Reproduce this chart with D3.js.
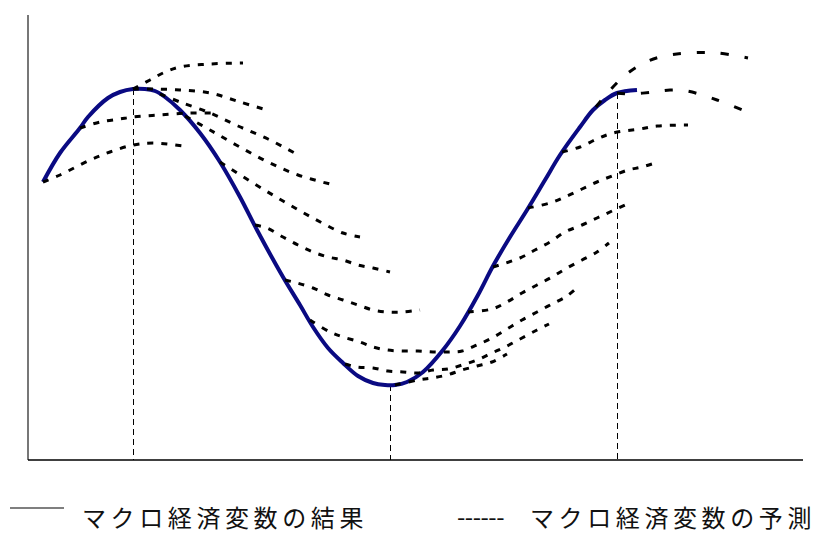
<!DOCTYPE html>
<html><head><meta charset="utf-8">
<script src="https://cdn.jsdelivr.net/npm/d3@7"></script>
<style>html,body{margin:0;padding:0;background:#fff;}svg{display:block;}</style>
</head><body>
<svg id="chart" width="820" height="535"></svg>
<script>
// Actual path of the macro variable (time, value)
const actualT = [3,6.4,10.4,12,16,18.4,21,23.4,25.4,27.4,30.4,34.4,38.4,42.4,45.8,51,54.4,57,60,63,66,69,71.4,73.4,75.8,79,83,86.4,90,93,96.4,99.8,103.4,106.4,110.4,113,115.4,117.8,121.8];
const actualV = [55.6,61.4,66.4,68.6,72.4,73.6,74.2,74.2,73.8,72.6,70,65.4,59.6,52.6,46,36.6,31,26.6,22.4,19.4,16.8,15.4,15,15,15.6,17.6,22,26.8,33,38.8,44.6,50,56,61,66.6,70,72,73.4,74];

// Turning-point markers (time)
const markerT = [21,72.4,117.8];
const markerV = [74.2,15,73.4];

// Forecast paths, each [time, value]
const fcA = [[3,55.6],[6.4,57],[12.4,60],[16.4,61.6],[21,63],[25,63.4],[31,62.8]];
const fcB = [[10.4,66.4],[14.4,67.6],[18.4,68.2],[21,68.6],[26.4,69],[32.4,69.4],[36.8,69.4]];
const fcC = [[21,74.2],[24.4,76],[27,77.4],[30.4,78.6],[36.4,79.2],[43,79.4]];
const fcD = [[21,74.2],[25,74.2],[30.4,74],[36.4,73.4],[42.4,71.6],[48.4,69.8]];
const fcE = [[26.4,73.2],[30.4,71.6],[36.4,69.4],[42,66.8],[48,64.2],[54.4,60.8]];
const fcF = [[31.4,68.8],[36.4,66],[42,62.8],[48,59.6],[54,57],[60.4,55.2]];
const fcG = [[38.4,59.6],[45,55.4],[51,51.8],[57,48.4],[63,45.4],[66.4,44.6]];
const fcH = [[45.4,47],[47.8,46.4],[51,44.6],[54,43],[57,41.6],[60,40.6],[63,40],[66,39],[69,38.4],[72.4,37.6]];
const fcI = [[51.4,36],[53.8,35.4],[57,34.4],[60,33],[63,32],[66,31],[69,30],[72,29.6],[75,29.6],[78.4,30]];
const fcJ = [[56.4,28],[60.4,25.6],[63,24.6],[66.4,23.6],[69,22.6],[71.8,22],[75,21.8],[78,21.8],[81,21.6],[84,21.6],[86.8,21.8],[89.8,23],[92.8,24.4],[95.8,26.2],[98.8,28],[101.8,29.6],[104.8,31.2],[107.8,32.8],[110,34.6]];
const fcK = [[63.4,19.2],[65.8,18.6],[69,18.4],[72,17.8],[75,17.6],[78,17.4],[81,18],[84,18.2],[86.8,19],[89.8,20],[92.8,21.4],[95.8,22.8],[98.8,24.4],[101.8,26],[104.2,27.2]];
const fcL = [[73.4,15],[78,16],[80.8,16.4],[83.8,17],[86.8,18],[89.8,18.8],[92.8,19.6],[95.8,21.2]];
const fcM = [[88,29.6],[92.8,30.2],[95.8,31.6],[98.8,33.4],[101.8,35],[104.8,36.6],[107.8,38.4],[110.8,40],[113.8,41.6],[116.2,43.4]];
const fcN = [[93,38.6],[98.4,40.4],[101.4,42],[104.4,43.6],[107.4,45.6],[110.8,47],[113.8,48.4],[116.8,49.8],[119.8,51.2]];
const fcO = [[100,50.4],[104.4,51.4],[107.8,52.8],[110.8,54.2],[113.8,55.6],[116.8,56.8],[120,58],[122.8,58.6],[126,59.6]];
const fcP = [[106.8,61.6],[110.4,62.6],[113.8,64.2],[117,65.4],[122.4,66.2],[125.8,66.8],[132,67]];
const fcQ = [[113.6,70.6],[115.4,72.8],[118.8,76.4],[122.4,79],[126.4,80.6],[131.8,81.4],[137.8,81.4],[144,80.4]];
const fcR = [[117.8,73.4],[120.4,73.2],[125,73.6],[128.4,74],[131.8,73.8],[137.8,72],[143.8,69.6]];

const forecastsNormal = [fcA,fcB,fcC,fcD,fcE,fcF,fcG,fcH,fcI,fcJ,fcK,fcL,fcM,fcN,fcO,fcP];
const forecastsWide = [fcQ,fcR];

const legendLabels = ["マクロ経済変数の結果","マクロ経済変数の予測"];

const svg = d3.select("#chart");
const x = d3.scaleLinear().domain([0,155]).range([28,803]);
const y = d3.scaleLinear().domain([0,89]).range([460,15]);

// axes
svg.append("line").attr("x1",x(0)).attr("x2",x(0)).attr("y1",y(89)).attr("y2",y(0))
  .attr("stroke","#555").attr("stroke-width",1.6);
svg.append("line").attr("x1",x(0)).attr("x2",x(155)).attr("y1",y(0)).attr("y2",y(0))
  .attr("stroke","#000").attr("stroke-width",1.4);

// vertical markers
markerT.forEach((t,i)=>{
  const px = Math.round(x(t)) + 0.5;
  svg.append("line").attr("x1",px).attr("x2",px).attr("y1",y(markerV[i])).attr("y2",y(0))
    .attr("stroke","#000").attr("stroke-width",1).attr("stroke-dasharray","6,4");
});

const line = d3.line().x(d=>x(d[0])).y(d=>y(d[1])).curve(d3.curveCatmullRom.alpha(0.5));

// actual
svg.append("path").datum(actualT.map((t,i)=>[t,actualV[i]])).attr("d",line)
  .attr("fill","none").attr("stroke","#0a0a82").attr("stroke-width",4).attr("stroke-linejoin","round");

// forecasts
forecastsNormal.forEach(f=>{
  svg.append("path").datum(f).attr("d",line).attr("fill","none")
    .attr("stroke","#000").attr("stroke-width",3).attr("stroke-dasharray","6,8");
});
forecastsWide.forEach(f=>{
  svg.append("path").datum(f).attr("d",line).attr("fill","none")
    .attr("stroke","#000").attr("stroke-width",3).attr("stroke-dasharray","8,16");
});

// legend
svg.append("line").attr("x1",10).attr("x2",64).attr("y1",508).attr("y2",508)
  .attr("stroke","#000").attr("stroke-width",1.2);
const font = "'Noto Sans CJK JP','Noto Sans CJK SC',sans-serif";
svg.append("text").attr("x",82).attr("y",527).attr("font-family",font).attr("font-size",24)
  .attr("letter-spacing","4.6px").attr("fill","#111").text(legendLabels[0]);
svg.append("text").attr("x",457).attr("y",526).attr("font-family",font).attr("font-size",24)
  .attr("letter-spacing","-0.5px").attr("fill","#111").text("------");
svg.append("text").attr("x",530).attr("y",527).attr("font-family",font).attr("font-size",24)
  .attr("letter-spacing","4.6px").attr("fill","#111").text(legendLabels[1]);
</script>
</body></html>
